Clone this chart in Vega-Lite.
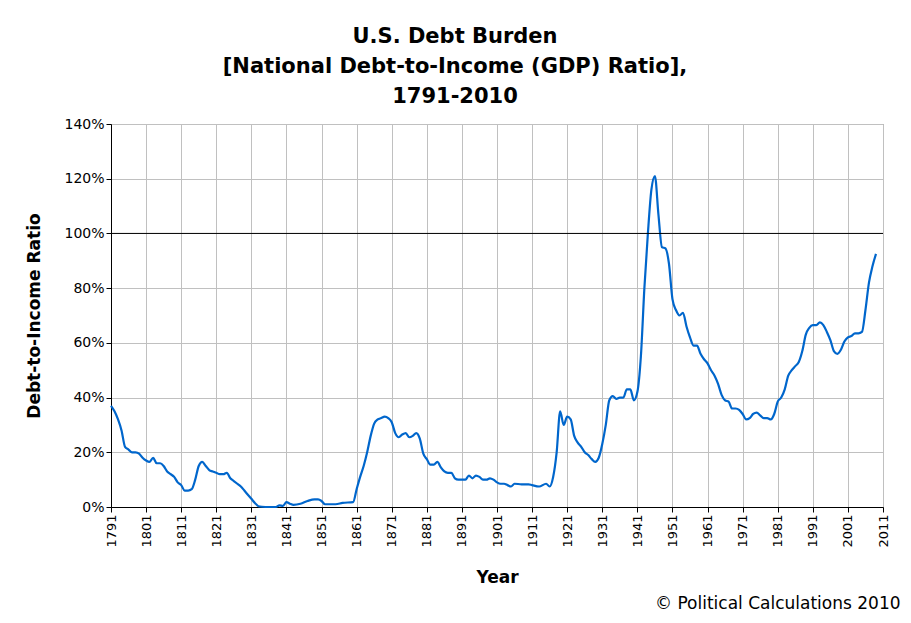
{
  "$schema": "https://vega.github.io/schema/vega-lite/v6.json",
  "width": 772,
  "height": 383,
  "autosize": "none",
  "padding": {"left": 111, "top": 124, "right": 28, "bottom": 116},
  "background": "white",
  "title": {
    "text": ["U.S. Debt Burden", "[National Debt-to-Income (GDP) Ratio],", "1791-2010"],
    "font": "DejaVu Sans", "fontSize": 21, "fontWeight": "bold", "color": "black",
    "lineHeight": 30, "anchor": "middle", "dx": -42, "offset": 10
  },
  "layer": [
    {
      "data": {"values": [
        {"year":1791,"r":37},{"year":1792,"r":35},{"year":1793,"r":32},{"year":1794,"r":28},{"year":1795,"r":22},
        {"year":1796,"r":21},{"year":1797,"r":20},{"year":1798,"r":20},{"year":1799,"r":19.5},{"year":1800,"r":18},
        {"year":1801,"r":17},{"year":1802,"r":16.5},{"year":1803,"r":18},{"year":1804,"r":16},{"year":1805,"r":16},
        {"year":1806,"r":15},{"year":1807,"r":13},{"year":1808,"r":12},{"year":1809,"r":11},{"year":1810,"r":9},
        {"year":1811,"r":8},{"year":1812,"r":6},{"year":1813,"r":6},{"year":1814,"r":6.5},{"year":1815,"r":10},
        {"year":1816,"r":15},{"year":1817,"r":16.5},{"year":1818,"r":15},{"year":1819,"r":13.5},{"year":1820,"r":13},
        {"year":1821,"r":12.5},{"year":1822,"r":12},{"year":1823,"r":12},{"year":1824,"r":12.5},{"year":1825,"r":10.5},
        {"year":1826,"r":9.5},{"year":1827,"r":8.5},{"year":1828,"r":7.5},{"year":1829,"r":6},{"year":1830,"r":4.5},
        {"year":1831,"r":3},{"year":1832,"r":1.5},{"year":1833,"r":0.3},{"year":1834,"r":0.1},{"year":1836,"r":0},
        {"year":1838,"r":0},{"year":1839,"r":0.6},{"year":1840,"r":0.4},{"year":1841,"r":1.8},{"year":1842,"r":1.2},
        {"year":1843,"r":0.8},{"year":1845,"r":1.2},{"year":1847,"r":2.2},{"year":1849,"r":2.8},{"year":1850,"r":2.8},
        {"year":1851,"r":2.2},{"year":1852,"r":1},{"year":1855,"r":1},{"year":1857,"r":1.5},{"year":1860,"r":1.8},
        {"year":1861,"r":6.5},{"year":1862,"r":11},{"year":1863,"r":15},{"year":1864,"r":20},{"year":1865,"r":26},
        {"year":1866,"r":30.5},{"year":1867,"r":32},{"year":1868,"r":32.5},{"year":1869,"r":33},{"year":1870,"r":32.5},
        {"year":1871,"r":31},{"year":1872,"r":27},{"year":1873,"r":25.5},{"year":1874,"r":26.5},{"year":1875,"r":27},
        {"year":1876,"r":25.5},{"year":1877,"r":26},{"year":1878,"r":27},{"year":1879,"r":25},{"year":1880,"r":19.5},
        {"year":1881,"r":17.5},{"year":1882,"r":15.5},{"year":1883,"r":15.5},{"year":1884,"r":16.5},{"year":1885,"r":14.5},
        {"year":1886,"r":13},{"year":1887,"r":12.5},{"year":1888,"r":12.5},{"year":1889,"r":10.5},{"year":1890,"r":10},
        {"year":1891,"r":10},{"year":1892,"r":10},{"year":1893,"r":11.5},{"year":1894,"r":10.5},{"year":1895,"r":11.5},
        {"year":1896,"r":11},{"year":1897,"r":10},{"year":1898,"r":10},{"year":1899,"r":10.5},{"year":1900,"r":10},
        {"year":1901,"r":9},{"year":1902,"r":8.5},{"year":1903,"r":8.5},{"year":1904,"r":8},{"year":1905,"r":7.5},
        {"year":1906,"r":8.5},{"year":1908,"r":8.3},{"year":1910,"r":8.3},{"year":1911,"r":8},{"year":1913,"r":7.5},
        {"year":1915,"r":8.5},{"year":1916,"r":7.5},{"year":1917,"r":11},{"year":1918,"r":20},{"year":1919,"r":35},
        {"year":1920,"r":30},{"year":1921,"r":33},{"year":1922,"r":32},{"year":1923,"r":26},{"year":1924,"r":23.5},
        {"year":1925,"r":22},{"year":1926,"r":20},{"year":1927,"r":19},{"year":1928,"r":17.5},{"year":1929,"r":16.5},
        {"year":1930,"r":18},{"year":1931,"r":23},{"year":1932,"r":30},{"year":1933,"r":39},{"year":1934,"r":40.5},
        {"year":1935,"r":39.5},{"year":1936,"r":40},{"year":1937,"r":40},{"year":1938,"r":43},{"year":1939,"r":43},
        {"year":1940,"r":39},{"year":1941,"r":42},{"year":1942,"r":55},{"year":1943,"r":80},{"year":1944,"r":100},
        {"year":1945,"r":116},{"year":1946,"r":121},{"year":1947,"r":107},{"year":1948,"r":95},{"year":1949,"r":94.5},
        {"year":1950,"r":89},{"year":1951,"r":76},{"year":1952,"r":72},{"year":1953,"r":70},{"year":1954,"r":71},
        {"year":1955,"r":66},{"year":1956,"r":62},{"year":1957,"r":59},{"year":1958,"r":59},{"year":1959,"r":56},
        {"year":1960,"r":54},{"year":1961,"r":52.5},{"year":1962,"r":50},{"year":1963,"r":48},{"year":1964,"r":45},
        {"year":1965,"r":41},{"year":1966,"r":39},{"year":1967,"r":38.5},{"year":1968,"r":36},{"year":1969,"r":36},
        {"year":1970,"r":35.5},{"year":1971,"r":34},{"year":1972,"r":32},{"year":1973,"r":32.5},{"year":1974,"r":34},
        {"year":1975,"r":34.5},{"year":1976,"r":33.5},{"year":1977,"r":32.5},{"year":1978,"r":32.5},{"year":1979,"r":32},
        {"year":1980,"r":34},{"year":1981,"r":38.5},{"year":1982,"r":40},{"year":1983,"r":43},{"year":1984,"r":48},
        {"year":1985,"r":50},{"year":1986,"r":51.5},{"year":1987,"r":53},{"year":1988,"r":57},{"year":1989,"r":63},
        {"year":1990,"r":65.5},{"year":1991,"r":66.5},{"year":1992,"r":66.5},{"year":1993,"r":67.5},{"year":1994,"r":66.5},
        {"year":1995,"r":64},{"year":1996,"r":61},{"year":1997,"r":57},{"year":1998,"r":56},{"year":1999,"r":57.5},
        {"year":2000,"r":60.5},{"year":2001,"r":62},{"year":2002,"r":62.5},{"year":2003,"r":63.5},{"year":2004,"r":63.5},
        {"year":2005,"r":64},{"year":2006,"r":72},{"year":2007,"r":82},{"year":2008,"r":88},{"year":2009,"r":92.5}
      ]},
      "transform": [{"calculate": "datum.r / 100", "as": "ratio"}],
      "mark": {"type": "line", "color": "#0066cc", "strokeWidth": 2.2, "interpolate": "monotone"},
      "encoding": {
        "x": {
          "field": "year", "type": "quantitative", "title": "Year",
          "scale": {"domain": [1791, 2011], "nice": false, "zero": false},
          "axis": {"values": [1791,1801,1811,1821,1831,1841,1851,1861,1871,1881,1891,1901,1911,1921,1931,1941,1951,1961,1971,1981,1991,2001,2011],
                   "tickCount": 23, "format": "d", "labelAngle": -90, "labelAlign": "right", "labelBaseline": "middle",
                   "labelOverlap": false, "labelBound": false, "labelFontSize": 13, "titlePadding": 22}
        },
        "y": {
          "field": "ratio", "type": "quantitative", "title": "Debt-to-Income Ratio",
          "scale": {"domain": [0, 1.4], "nice": false},
          "axis": {"values": [0,0.2,0.4,0.6,0.8,1,1.2,1.4], "format": ".0%", "titlePadding": 20}
        }
      }
    },
    {
      "data": {"values": [{"level": 1}]},
      "mark": {"type": "rule", "color": "black", "strokeWidth": 1},
      "encoding": {"y": {"field": "level", "type": "quantitative"}}
    },
    {
      "data": {"values": [{"note": "© Political Calculations 2010", "nx": 2016, "ny": -0.355}]},
      "mark": {"type": "text", "align": "right", "baseline": "middle", "fontSize": 17, "font": "DejaVu Sans", "color": "black", "clip": false},
      "encoding": {"x": {"field": "nx", "type": "quantitative"}, "y": {"field": "ny", "type": "quantitative"}, "text": {"field": "note"}}
    }
  ],
  "config": {
    "view": {"stroke": "#888888"},
    "axis": {
      "labelFont": "DejaVu Sans", "labelFontSize": 14, "labelColor": "black",
      "titleFont": "DejaVu Sans", "titleFontSize": 17, "titleFontWeight": "bold", "titleColor": "black",
      "domainColor": "black", "tickColor": "black", "tickSize": 5,
      "grid": true, "gridColor": "#c0c0c0", "gridWidth": 1
    }
  }
}
